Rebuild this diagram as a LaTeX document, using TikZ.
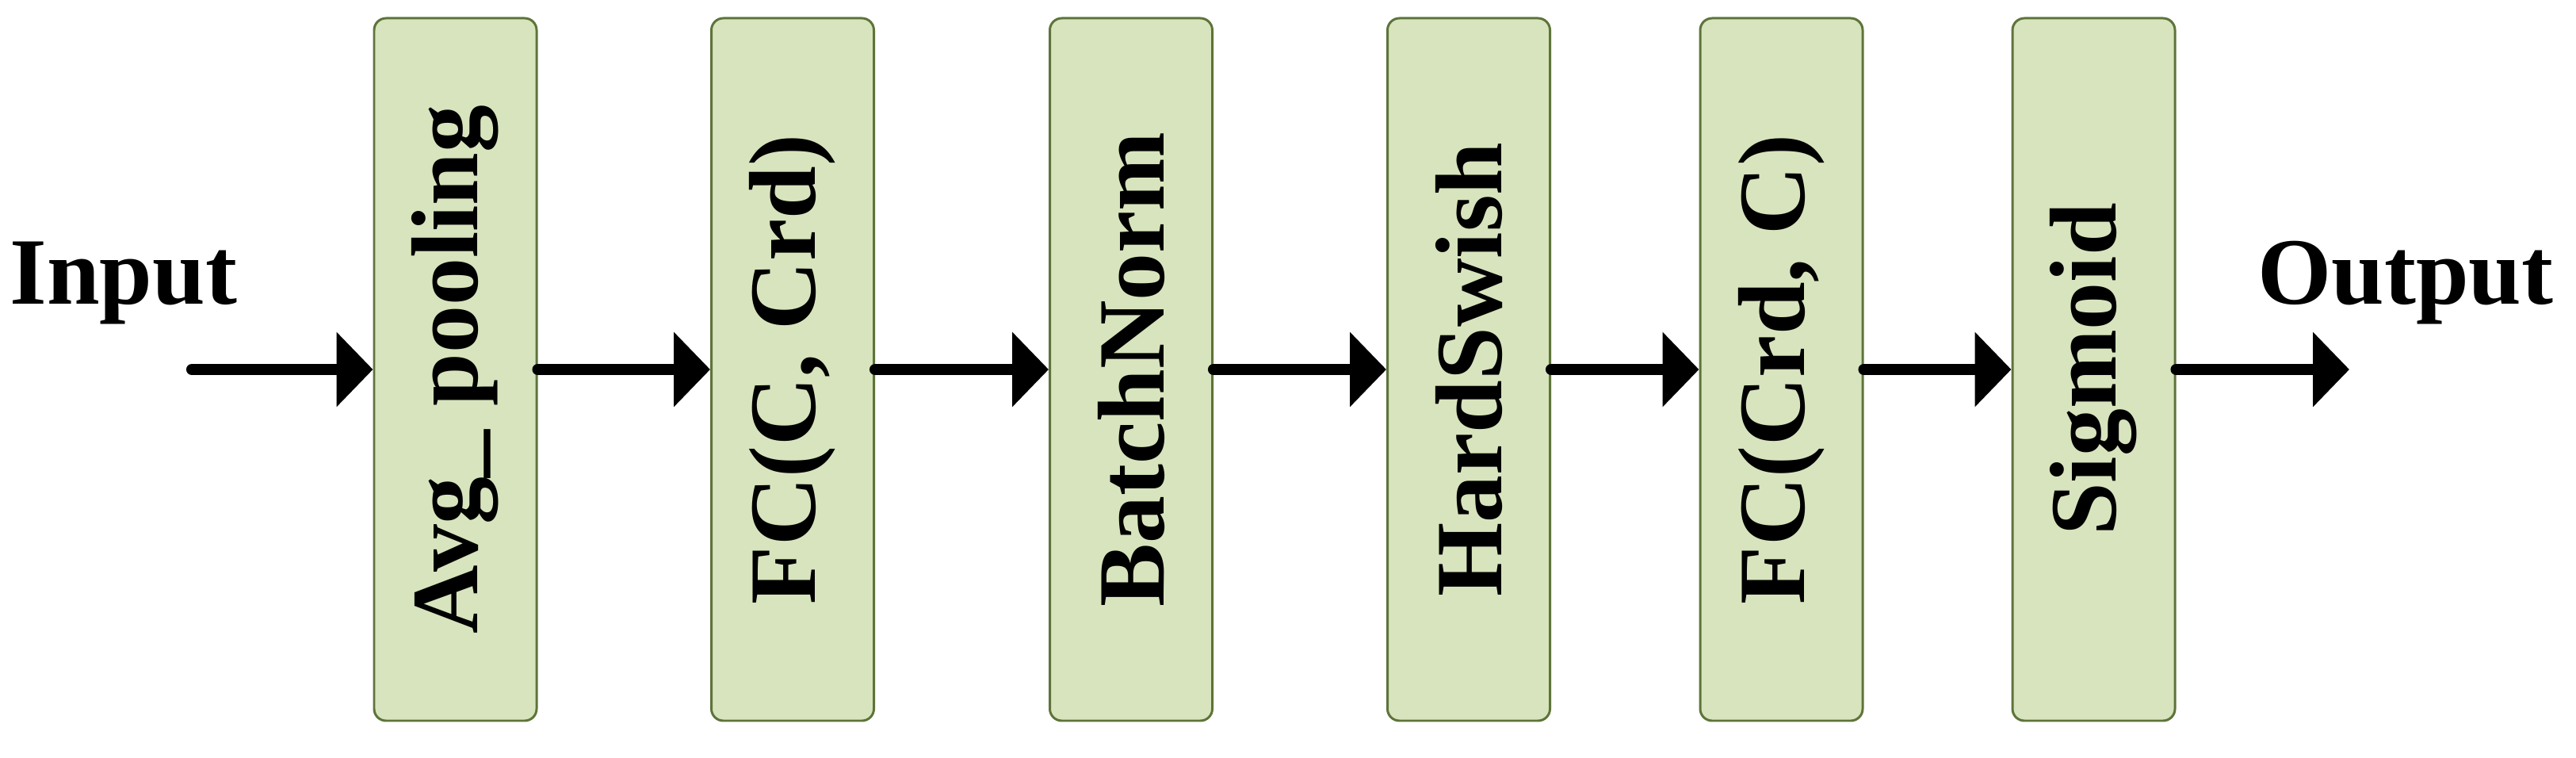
\documentclass[tikz,border=0pt]{standalone}
\usepackage{fontspec}
\setmainfont{Liberation Serif}
\usetikzlibrary{arrows.meta}
\definecolor{boxfill}{HTML}{D7E4BD}
\definecolor{boxline}{HTML}{5E743A}
\tikzset{
  blockbox/.style={rotate=90, draw=boxline, line width=0.85pt, fill=boxfill,
    rounded corners=0.15cm, minimum width=8.86cm, minimum height=2.05cm,
    inner sep=0pt, font=\bfseries\fontsize{34.1}{40}\selectfont},
  flow/.style={line width=4pt, line cap=round, -{Triangle[length=0.46cm,width=0.92cm]}},
  lbl/.style={inner sep=0pt, font=\bfseries\fontsize{34.1}{40}\selectfont}
}
\begin{document}
\begin{tikzpicture}
\useasboundingbox (0,0) rectangle (32.5,9.55);
\node[blockbox] (b1) at (5.745,4.89) {Avg\_ pooling};
\node[blockbox] (b2) at (10.00,4.89) {FC(C, Crd)};
\node[blockbox] (b3) at (14.27,4.89) {BatchNorm};
\node[blockbox] (b4) at (18.53,4.89) {HardSwish};
\node[blockbox] (b5) at (22.475,4.89) {FC(Crd, C)};
\node[blockbox] (b6) at (26.415,4.89) {Sigmoid};
\node[lbl, anchor=base west] (in) at (0.12,5.71) {Input};
\node[lbl, anchor=base east] (out) at (32.22,5.71) {Output};
\coordinate (s) at (2.42,4.89);
\coordinate (e) at (29.64,4.89);
\draw[flow] (s) -- (b1);
\draw[flow] (b1) -- (b2);
\draw[flow] (b2) -- (b3);
\draw[flow] (b3) -- (b4);
\draw[flow] (b4) -- (b5);
\draw[flow] (b5) -- (b6);
\draw[flow] (b6) -- (e);
\end{tikzpicture}
\end{document}
